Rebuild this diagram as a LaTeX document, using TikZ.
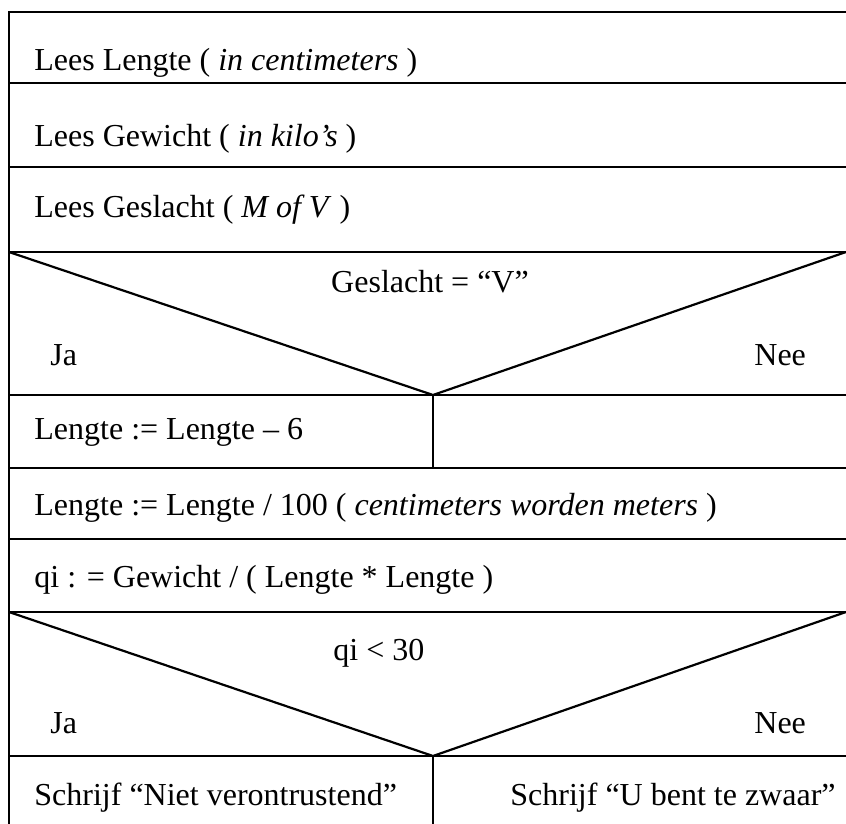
\documentclass[tikz,border=0pt]{standalone}
\usepackage{fontspec}
\setmainfont{Liberation Serif}
\begin{document}
\begin{tikzpicture}[x=0.5pt,y=-0.5pt,
  frame/.style={line width=1.1pt,black},
  txt/.style={anchor=base west,inner sep=0pt,font=\fontsize{16}{19}\selectfont},
  ctxt/.style={anchor=base,inner sep=0pt,font=\fontsize{16}{19}\selectfont}]
\useasboundingbox (0,0) rectangle (846,824);
% outer frame (left and top edges)
\draw[frame] (9,824) -- (9,12) -- (846,12);
% horizontal separators of the sequence blocks
\foreach \yy in {83,167,252,395,468,539,612,756}
  \draw[frame] (9,\yy) -- (846,\yy);
% decision triangles
\coordinate (d1) at (433,395);
\coordinate (d2) at (433,756);
\draw[frame] (9,252) -- (d1) -- (846,252);
\draw[frame] (9,612) -- (d2) -- (846,612);
% branch dividers
\draw[frame] (d1) -- (433,468);
\draw[frame] (d2) -- (433,824);
% texts
\node[txt] (t1) at (34,71) {Lees Lengte ( \textit{in centimeters} )};
\node[txt] (t2) at (34,147) {Lees Gewicht ( \textit{in kilo’s} )};
\node[txt] (t3) at (34,217) {Lees Geslacht ( \textit{M of V} )};
\node[ctxt] (c1) at (430,292) {Geslacht = “V”};
\node[txt] (ja1) at (50,365) {Ja};
\node[txt] (nee1) at (754,365) {Nee};
\node[txt] (t4) at (34,439) {Lengte := Lengte – 6};
\node[txt] (t5) at (34,515) {Lengte := Lengte / 100 ( \textit{centimeters worden meters} )};
\node[txt] (t6) at (34,587) {qi : = Gewicht / ( Lengte * Lengte )};
\node[txt] (c2) at (333,660) {qi < 30};
\node[txt] (ja2) at (50,733) {Ja};
\node[txt] (nee2) at (754,733) {Nee};
\node[txt] (t7) at (34,805) {Schrijf “Niet verontrustend”};
\node[txt] (t8) at (510,805) {Schrijf “U bent te zwaar”};
\end{tikzpicture}
\end{document}
